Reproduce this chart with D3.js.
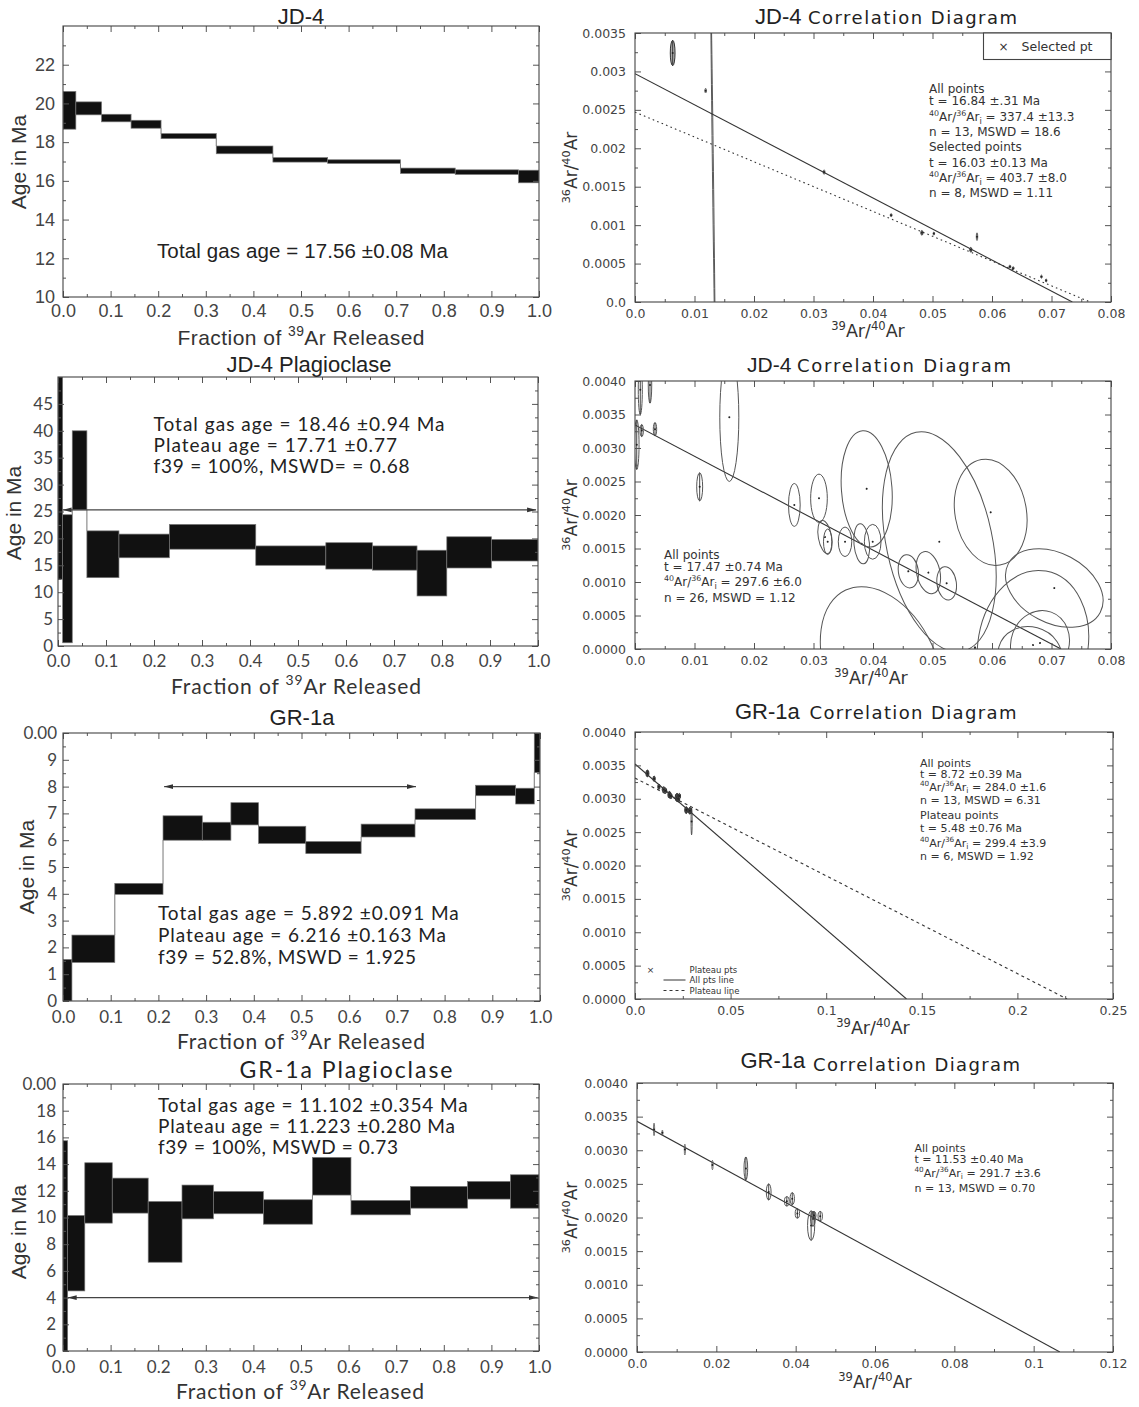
<!DOCTYPE html>
<html>
<head>
<meta charset="utf-8">
<script src="https://cdn.jsdelivr.net/npm/d3@7"></script>
<style>
  html, body { margin: 0; padding: 0; background: #fff; }
  svg { display: block; }
</style>
</head>
<body>
<svg id="fig" width="1139" height="1407"></svg>
<script>
// ---------------- Age spectra: [start fraction, end fraction, age low (Ma), age high (Ma)]
const jd4Steps = [
  [0.000, 0.027, 18.67, 20.62],
  [0.027, 0.081, 19.41, 20.08],
  [0.081, 0.143, 19.05, 19.44],
  [0.143, 0.206, 18.72, 19.13],
  [0.206, 0.322, 18.18, 18.44],
  [0.322, 0.441, 17.40, 17.80],
  [0.441, 0.556, 16.97, 17.20],
  [0.556, 0.709, 16.90, 17.09],
  [0.709, 0.824, 16.38, 16.66],
  [0.824, 0.957, 16.33, 16.57],
  [0.957, 1.000, 15.90, 16.55]
];
const jd4PlagSteps = [
  [0.000, 0.0097, 12.4, 50.0],
  [0.0097, 0.0297, 0.6, 24.4],
  [0.0297, 0.0602, 25.3, 40.0],
  [0.0602, 0.127, 12.7, 21.4],
  [0.127, 0.232, 16.4, 20.8],
  [0.232, 0.412, 18.0, 22.6],
  [0.412, 0.558, 15.0, 18.6],
  [0.558, 0.655, 14.3, 19.2],
  [0.655, 0.748, 14.1, 18.6],
  [0.748, 0.810, 9.3, 17.8],
  [0.810, 0.903, 14.5, 20.3],
  [0.903, 1.000, 15.8, 19.8]
];
const gr1aSteps = [
  [0.000, 0.0187, 0.00, 1.55],
  [0.0187, 0.1086, 1.44, 2.46],
  [0.1086, 0.2097, 3.98, 4.39],
  [0.2097, 0.292, 6.00, 6.91],
  [0.292, 0.352, 6.00, 6.67],
  [0.352, 0.410, 6.57, 7.40],
  [0.410, 0.509, 5.88, 6.52],
  [0.509, 0.625, 5.50, 5.95],
  [0.625, 0.738, 6.12, 6.60],
  [0.738, 0.865, 6.77, 7.17],
  [0.865, 0.949, 7.66, 8.05],
  [0.949, 0.988, 7.35, 7.94],
  [0.988, 1.000, 8.52, 10.0]
];
const gr1aPlagSteps = [
  [0.000, 0.0098, 0.00, 15.75],
  [0.0098, 0.0458, 4.50, 10.15],
  [0.0458, 0.1035, 9.58, 14.10],
  [0.1035, 0.179, 10.33, 12.95],
  [0.179, 0.250, 6.65, 11.20],
  [0.250, 0.316, 9.90, 12.43],
  [0.316, 0.421, 10.28, 11.95],
  [0.421, 0.524, 9.50, 11.33],
  [0.524, 0.605, 11.68, 14.50],
  [0.605, 0.730, 10.20, 11.28],
  [0.730, 0.850, 10.70, 12.33],
  [0.850, 0.940, 11.38, 12.70],
  [0.940, 1.000, 10.70, 13.20]
];

// Plateau arrows: [from fraction, to fraction, age level]
const jd4PlagPlateau = [0.0097, 0.996, 25.3];
const gr1aPlateau = [0.212, 0.740, 8.0];
const gr1aPlagPlateau = [0.0098, 0.997, 4.0];

// ---------------- Isochron points: [39Ar/40Ar, 36Ar/40Ar, half-width x, half-width y, tilt deg]
const jd4Iso = [
  [0.00633, 0.00324, 0.00040, 0.000165, 0],
  [0.01187, 0.00275, 0.00012, 0.00003, 0],
  [0.0131, 0.00170, 0.00003, 0.00240, -0.7],
  [0.03178, 0.00169, 0.00015, 0.00003, 0],
  [0.04305, 0.00113, 0.00015, 0.00002, 0],
  [0.04822, 0.00090, 0.00018, 0.00003, 0],
  [0.05023, 0.00089, 0.00012, 0.00002, 0],
  [0.05644, 0.00068, 0.00018, 0.00003, 0],
  [0.05748, 0.00085, 0.00012, 0.00005, 0],
  [0.06301, 0.00046, 0.00015, 0.00002, 0],
  [0.06356, 0.00044, 0.00015, 0.00002, 0],
  [0.06831, 0.00033, 0.00012, 0.00002, 0],
  [0.06910, 0.00028, 0.00012, 0.00002, 0]
];
const jd4PlagIso = [
  [0.00029, 0.00305, 0.00039, 0.00037, 0],
  [0.00089, 0.00387, 0.00034, 0.00037, 0],
  [0.00252, 0.00394, 0.00029, 0.00027, 0],
  [0.00113, 0.00326, 0.00028, 0.00009, 0],
  [0.00336, 0.00328, 0.00028, 0.00010, 0],
  [0.01087, 0.00242, 0.00050, 0.00021, 0],
  [0.01585, 0.00346, 0.00160, 0.00096, 0],
  [0.02678, 0.00215, 0.00098, 0.00032, 0],
  [0.03092, 0.00225, 0.00140, 0.00036, 0],
  [0.03193, 0.00167, 0.00112, 0.00025, -10],
  [0.03238, 0.00160, 0.00070, 0.00019, 0],
  [0.03530, 0.00160, 0.00113, 0.00022, 0],
  [0.03810, 0.00157, 0.00130, 0.00030, -5],
  [0.03995, 0.00160, 0.00140, 0.00026, 0],
  [0.03894, 0.00239, 0.00425, 0.00087, -4],
  [0.04594, 0.00116, 0.00168, 0.00025, -8],
  [0.04930, 0.00114, 0.00196, 0.00032, -12],
  [0.05238, 0.00098, 0.00163, 0.00025, -8],
  [0.05114, 0.00160, 0.00890, 0.00167, -12],
  [0.05978, 0.00204, 0.00600, 0.00080, -10],
  [0.07047, 0.00091, 0.00874, 0.00052, 28],
  [0.06689, 0.00006, 0.00924, 0.00112, 10],
  [0.06807, 0.00009, 0.00487, 0.00049, 20],
  [0.06639, -0.00009, 0.00540, 0.00042, 15],
  [0.04151, -0.00028, 0.00924, 0.00128, -25],
  [0.05714, 0.00002, 0.00010, 0.00002, 0]
];
const gr1aIso = [
  [0.0065, 0.00338, 0.0008, 0.00005, 0],
  [0.0100, 0.00330, 0.0006, 0.00004, 0],
  [0.0125, 0.00318, 0.0006, 0.00004, 0],
  [0.0150, 0.00314, 0.0008, 0.00004, 0],
  [0.0160, 0.00312, 0.0006, 0.00004, 0],
  [0.0180, 0.00306, 0.0008, 0.00005, 0],
  [0.0188, 0.00304, 0.0006, 0.00004, 0],
  [0.0220, 0.00302, 0.0010, 0.00006, 0],
  [0.0226, 0.00300, 0.0008, 0.00005, 0],
  [0.0232, 0.00304, 0.0006, 0.00004, 0],
  [0.0268, 0.00283, 0.0008, 0.00005, 0],
  [0.0287, 0.00282, 0.0008, 0.00005, 0],
  [0.0296, 0.00266, 0.0003, 0.00020, 0]
];
const gr1aPlagIso = [
  [0.0043, 0.00331, 0.00015, 0.000094, 0],
  [0.0064, 0.00326, 0.00012, 0.00004, 0],
  [0.01207, 0.00301, 0.00015, 0.00008, 0],
  [0.01902, 0.00278, 0.00015, 0.00007, 0],
  [0.02744, 0.00273, 0.00046, 0.00017, 0],
  [0.0332, 0.00238, 0.00060, 0.00012, 0],
  [0.03777, 0.00224, 0.00060, 0.00007, 0],
  [0.03914, 0.00228, 0.00055, 0.00009, 0],
  [0.04043, 0.00206, 0.00055, 0.00007, 0],
  [0.0439, 0.00188, 0.00090, 0.00022, 0],
  [0.04436, 0.00198, 0.00060, 0.00011, 0],
  [0.04463, 0.00203, 0.00050, 0.00006, 0],
  [0.04619, 0.00202, 0.00055, 0.00007, 0]
];

// Regression lines: [y-intercept, x-intercept]
const jd4IsoLines = [[0.00297, 0.0735], [0.00247, 0.0765]];
const jd4PlagIsoLines = [[0.003344, 0.0716]];
const gr1aIsoLines = [[0.00352, 0.142], [0.00331, 0.226]];
const gr1aPlagIsoLines = [[0.00343, 0.1066]];

// ---------------- Tick labels
const fracLabels = ["0.0","0.1","0.2","0.3","0.4","0.5","0.6","0.7","0.8","0.9","1.0"];
const jd4AgeLabels = ["10","12","14","16","18","20","22"];
const jd4PlagAgeLabels = ["0","5","10","15","20","25","30","35","40","45"];
const gr1aAgeLabels = ["0","1","2","3","4","5","6","7","8","9","0.00"];
const gr1aPlagAgeLabels = ["0","2","4","6","8","10","12","14","16","18","0.00"];
const jd4IsoXLabels = ["0.0","0.01","0.02","0.03","0.04","0.05","0.06","0.07","0.08"];
const jd4IsoYLabels = ["0.0","0.0005","0.001","0.0015","0.002","0.0025","0.003","0.0035"];
const ratioYLabels = ["0.0000","0.0005","0.0010","0.0015","0.0020","0.0025","0.0030","0.0035","0.0040"];
const gr1aIsoXLabels = ["0.0","0.05","0.1","0.15","0.2","0.25"];
const gr1aPlagIsoXLabels = ["0.0","0.02","0.04","0.06","0.08","0.1","0.12"];

// ---------------- Annotation text
const jd4Stats = ["Total gas age = 17.56 \u00b10.08 Ma"];
const jd4PlagStats = ["Total gas age = 18.46 \u00b10.94 Ma", "Plateau age = 17.71 \u00b10.77", "f39 = 100%, MSWD= = 0.68"];
const gr1aStats = ["Total gas age = 5.892 \u00b10.091 Ma", "Plateau age = 6.216 \u00b10.163 Ma", "f39 = 52.8%, MSWD = 1.925"];
const gr1aPlagStats = ["Total gas age = 11.102 \u00b10.354 Ma", "Plateau age = 11.223 \u00b10.280 Ma", "f39 = 100%, MSWD = 0.73"];
const jd4IsoStats = ["All points", "t = 16.84 \u00b1.31 Ma", "^40Ar/^36Ar_i = 337.4 \u00b113.3", "n = 13, MSWD = 18.6",
  "Selected points", "t = 16.03 \u00b10.13 Ma", "^40Ar/^36Ar_i = 403.7 \u00b18.0", "n = 8, MSWD = 1.11"];
const jd4PlagIsoStats = ["All points", "t = 17.47 \u00b10.74 Ma", "^40Ar/^36Ar_i = 297.6 \u00b16.0", "n = 26, MSWD = 1.12"];
const gr1aIsoStats = ["All points", "t = 8.72 \u00b10.39 Ma", "^40Ar/^36Ar_i = 284.0 \u00b11.6", "n = 13, MSWD = 6.31",
  "Plateau points", "t = 5.48 \u00b10.76 Ma", "^40Ar/^36Ar_i = 299.4 \u00b13.9", "n = 6, MSWD = 1.92"];
const gr1aPlagIsoStats = ["All points", "t = 11.53 \u00b10.40 Ma", "^40Ar/^36Ar_i = 291.7 \u00b13.6", "n = 13, MSWD = 0.70"];

// ---------------- Drawing
const SANS = "'Liberation Sans', Arial, Helvetica, sans-serif";
const HUM = "Lato, 'Open Sans', sans-serif";
const DJ = "'DejaVu Sans', Verdana, sans-serif";
const INK = "#222", GRAY = "#444";

const svg = d3.select("#fig");
svg.append("rect").attr("width", 1139).attr("height", 1407).attr("fill", "#fff");
const defs = svg.append("defs");
defs.append("marker").attr("id", "arrow")
  .attr("viewBox", "0 0 9 6").attr("refX", 9).attr("refY", 3)
  .attr("markerWidth", 9).attr("markerHeight", 6)
  .attr("markerUnits", "userSpaceOnUse").attr("orient", "auto-start-reverse")
  .append("path").attr("d", "M0,0.6L9,3L0,5.4Z").attr("fill", "#333");

let clipCount = 0;
function makePanel(box, xDomain, yDomain) {
  const x = d3.scaleLinear().domain(xDomain).range([box.left, box.right]);
  const y = d3.scaleLinear().domain(yDomain).range([box.bottom, box.top]);
  const id = "plotclip" + (clipCount++);
  defs.append("clipPath").attr("id", id).append("rect")
    .attr("x", box.left).attr("y", box.top)
    .attr("width", box.right - box.left).attr("height", box.bottom - box.top);
  const g = svg.append("g");
  const plot = g.append("g").attr("clip-path", `url(#${id})`);
  return { x, y, g, plot, box };
}

// Tick marks point inward on all four sides; only bottom and left carry labels.
function drawAxes(p, t) {
  const { x, y, g, box } = p;
  const xMaj = t.x.labels.map((_, i) => t.x.start + i * t.x.step);
  const yMaj = t.y.labels.map((_, i) => t.y.start + i * t.y.step);
  const xMin = d3.range(t.x.start + t.x.step / 2, x.domain()[1] - 1e-12, t.x.step);
  const yMin = d3.range(t.y.start + t.y.step / 2, y.domain()[1] - 1e-12, t.y.step);
  const sides = [
    [d3.axisBottom, x, `translate(0,${box.bottom})`, xMaj, xMin, t.x.labels, t.xPad],
    [d3.axisTop, x, `translate(0,${box.top})`, xMaj, xMin, null, 0],
    [d3.axisLeft, y, `translate(${box.left},0)`, yMaj, yMin, t.y.labels, t.yPad],
    [d3.axisRight, y, `translate(${box.right},0)`, yMaj, yMin, null, 0]
  ];
  sides.forEach(([axisFn, sc, tr, maj, min, labels, pad]) => {
    const major = axisFn(sc).tickValues(maj).tickSizeInner(-6).tickSizeOuter(0).tickPadding(pad)
      .tickFormat((d, i) => labels ? labels[i] : "");
    const minor = axisFn(sc).tickValues(min).tickSizeInner(-3).tickSizeOuter(0).tickFormat(() => "");
    [major, minor].forEach(a => {
      const s = g.append("g").attr("transform", tr).call(a);
      s.select(".domain").remove();
      s.selectAll(".tick line").attr("stroke", "#555").attr("stroke-width", 1);
      s.selectAll(".tick text").attr("font-family", t.font).attr("font-size", t.size).attr("fill", GRAY);
    });
  });
  g.append("rect").attr("x", box.left).attr("y", box.top)
    .attr("width", box.right - box.left).attr("height", box.bottom - box.top)
    .attr("fill", "none").attr("stroke", "#444").attr("stroke-width", 1.1);
}

// Text with ^sup and _sub markup.
function rich(sel, str, fs) {
  const re = /\^(\d+)|_(\w)|([^\^_]+)/g;
  let m, shift = 0;
  while ((m = re.exec(str))) {
    if (m[1]) {
      sel.append("tspan").attr("dy", -fs * 0.42 - shift).attr("font-size", fs * 0.66).text(m[1]);
      shift = -fs * 0.42;
    } else if (m[2]) {
      sel.append("tspan").attr("dy", fs * 0.22 - shift).attr("font-size", fs * 0.7).text(m[2]);
      shift = fs * 0.22;
    } else {
      sel.append("tspan").attr("dy", -shift).text(m[3]);
      shift = 0;
    }
  }
}

function label(g, o) {
  const t = g.append("text")
    .attr("font-family", o.font).attr("font-size", o.size).attr("fill", o.fill || INK)
    .attr("text-anchor", o.anchor || "start");
  if (o.rotate) t.attr("transform", `translate(${o.x},${o.y}) rotate(-90)`);
  else t.attr("x", o.x).attr("y", o.y);
  if (o.len) t.attr("textLength", o.len).attr("lengthAdjust", "spacing");
  rich(t, o.text, o.size);
  return t;
}

function drawSteps(p, steps, plateau) {
  const { x, y, plot } = p;
  // connectors across gaps between consecutive steps
  d3.pairs(steps).forEach(([a, b]) => {
    let seg = null;
    if (b[2] > a[3]) seg = [a[3], b[2]];
    else if (b[3] < a[2]) seg = [b[3], a[2]];
    if (seg) plot.append("line")
      .attr("x1", x(b[0])).attr("x2", x(b[0]))
      .attr("y1", y(seg[0])).attr("y2", y(seg[1]))
      .attr("stroke", "#777").attr("stroke-width", 1);
  });
  plot.selectAll("rect.step").data(steps).join("rect").attr("class", "step")
    .attr("x", d => x(d[0])).attr("width", d => x(d[1]) - x(d[0]))
    .attr("y", d => y(d[3])).attr("height", d => y(d[2]) - y(d[3]))
    .attr("fill", "#111").attr("stroke", "#777").attr("stroke-width", 0.7);
  if (plateau) {
    p.g.append("line")
      .attr("x1", x(plateau[0])).attr("x2", x(plateau[1]))
      .attr("y1", y(plateau[2])).attr("y2", y(plateau[2]))
      .attr("stroke", "#444").attr("stroke-width", 1.1)
      .attr("marker-start", "url(#arrow)").attr("marker-end", "url(#arrow)");
  }
}

function spectrumPanel(box, c) {
  const p = makePanel(box, [0, 1], c.yDomain);
  drawSteps(p, c.steps, c.plateau);
  drawAxes(p, {
    x: { start: 0, step: 0.1, labels: fracLabels },
    y: c.yTicks, font: c.tickFont, size: c.tickSize, xPad: c.xPad, yPad: c.yPad
  });
  label(p.g, Object.assign({ font: SANS, size: 22, anchor: "middle" }, c.title));
  label(p.g, { text: "Age in Ma", x: c.yTitle[0], y: c.yTitle[1], rotate: true, anchor: "middle", font: SANS, size: 21, fill: "#333" });
  label(p.g, { text: "Fraction of ^39Ar Released", x: c.xTitle[0] - c.xTitle[3] / 2, y: c.xTitle[1],
    font: c.xTitle[2], size: 21, len: c.xTitle[3], fill: "#333" });
  c.stats.forEach((s, i) => label(p.g, { text: s, x: c.statX, y: c.statY[i], font: c.statFont,
    size: c.statSize, len: c.statLen[i], fill: INK }));
}

function isoPanel(box, c) {
  const p = makePanel(box, c.xDomain, c.yDomain);
  const { x, y, plot } = p;
  c.lines.forEach((ln, k) => plot.append("line")
    .attr("x1", x(0)).attr("y1", y(ln[0])).attr("x2", x(ln[1])).attr("y2", y(0))
    .attr("stroke", "#333").attr("stroke-width", 1.1)
    .attr("stroke-dasharray", c.dash[k] || null));
  c.points.forEach(d => {
    const cx = x(d[0]), cy = y(d[1]);
    const rx = Math.max(0.5, x(d[0] + d[2]) - cx), ry = Math.max(0.6, cy - y(d[1] + d[3]));
    const e = plot.append("g").attr("transform", `translate(${cx},${cy}) rotate(${d[4]})`);
    e.append("ellipse").attr("rx", rx).attr("ry", ry)
      .attr("fill", rx < 1 ? "none" : c.pointFill).attr("stroke", c.pointStroke)
      .attr("stroke-width", rx < 1 ? 0.8 : 1);
    if (rx >= 1.2 && rx < 4 && ry > 3) e.append("line").attr("y1", -ry).attr("y2", ry)
      .attr("stroke", "#333").attr("stroke-width", 0.9);
    if (ry < 150) e.append("circle").attr("r", 1).attr("fill", "#222");
  });
  drawAxes(p, {
    x: c.xTicks, y: c.yTicks, font: DJ, size: 12.5, xPad: 7, yPad: 9
  });
  label(p.g, { text: c.title[0], x: c.title[1], y: c.title[3], font: SANS, size: c.title[6] || 22 });
  label(p.g, { text: "Correlation Diagram", x: c.title[2], y: c.title[4], font: DJ, size: 18, len: c.title[5] });
  label(p.g, { text: "^36Ar/^40Ar", x: 577, y: (box.top + box.bottom) / 2, rotate: true, anchor: "middle", font: DJ, size: 17, fill: "#333" });
  label(p.g, { text: "^39Ar/^40Ar", x: c.xTitle[0], y: c.xTitle[1], anchor: "middle", font: DJ, size: 17.5, fill: "#333" });
  c.stats.forEach((s, i) => label(p.g, { text: s, x: c.statX, y: c.statY[i], font: DJ, size: c.statSize, fill: "#333" }));
  return p;
}

// ---------------- Layout
const boxes = {
  jd4:        { left: 63,  right: 539,  top: 26,   bottom: 297 },
  jd4Plag:    { left: 58,  right: 538,  top: 377,  bottom: 646 },
  gr1a:       { left: 63,  right: 540,  top: 733,  bottom: 1001 },
  gr1aPlag:   { left: 63,  right: 539,  top: 1084, bottom: 1351 },
  jd4Iso:     { left: 635, right: 1111, top: 33,   bottom: 302 },
  jd4PlagIso: { left: 635, right: 1111, top: 381,  bottom: 649 },
  gr1aIso:    { left: 635, right: 1113, top: 732,  bottom: 999 },
  gr1aPlagIso:{ left: 637, right: 1113, top: 1083, bottom: 1352 }
};

spectrumPanel(boxes.jd4, {
  steps: jd4Steps, yDomain: [10, 24], yTicks: { start: 10, step: 2, labels: jd4AgeLabels },
  tickFont: SANS, tickSize: 18, xPad: 7, yPad: 8,
  title: { text: "JD-4", x: 301, y: 24 },
  yTitle: [26, 162], xTitle: [301, 345, SANS, 247],
  stats: jd4Stats, statX: 157, statY: [258], statFont: SANS, statSize: 20.5, statLen: [291]
});

spectrumPanel(boxes.jd4Plag, {
  steps: jd4PlagSteps, plateau: jd4PlagPlateau, yDomain: [0, 50],
  yTicks: { start: 0, step: 5, labels: jd4PlagAgeLabels },
  tickFont: HUM, tickSize: 17, xPad: 9, yPad: 5,
  title: { text: "JD-4 Plagioclase", x: 309, y: 371.5 },
  yTitle: [21, 513], xTitle: [296, 694, HUM, 250],
  stats: jd4PlagStats, statX: 153.5, statY: [431, 452, 473], statFont: HUM, statSize: 19,
  statLen: [291, 243.6, 256]
});

spectrumPanel(boxes.gr1a, {
  steps: gr1aSteps, plateau: gr1aPlateau, yDomain: [0, 10],
  yTicks: { start: 0, step: 1, labels: gr1aAgeLabels },
  tickFont: HUM, tickSize: 17, xPad: 10, yPad: 6,
  title: { text: "GR-1a", x: 302, y: 725 },
  yTitle: [34, 867], xTitle: [301, 1049, HUM, 248],
  stats: gr1aStats, statX: 158, statY: [920, 942, 964], statFont: HUM, statSize: 19,
  statLen: [300.7, 288, 258]
});

spectrumPanel(boxes.gr1aPlag, {
  steps: gr1aPlagSteps, plateau: gr1aPlagPlateau, yDomain: [0, 20],
  yTicks: { start: 0, step: 2, labels: gr1aPlagAgeLabels },
  tickFont: HUM, tickSize: 17, xPad: 10, yPad: 7,
  title: { text: "GR-1a Plagioclase", x: 239.5, y: 1077.5, font: HUM, size: 23, anchor: "start", len: 213 },
  yTitle: [26, 1232], xTitle: [300, 1399, HUM, 248],
  stats: gr1aPlagStats, statX: 158, statY: [1111.5, 1132.5, 1153.5], statFont: HUM, statSize: 19,
  statLen: [309.6, 297, 240]
});

const jd4IsoPanel = isoPanel(boxes.jd4Iso, {
  xDomain: [0, 0.08], yDomain: [0, 0.0035],
  xTicks: { start: 0, step: 0.01, labels: jd4IsoXLabels },
  yTicks: { start: 0, step: 0.0005, labels: jd4IsoYLabels },
  lines: jd4IsoLines, dash: [null, "1.6,3.2"], points: jd4Iso, pointFill: "#aaa", pointStroke: "#333",
  title: ["JD-4", 755, 808, 24, 24, 209], xTitle: [868, 337],
  stats: jd4IsoStats, statX: 929, statY: [93, 105, 121, 136, 151, 167, 182, 197], statSize: 12
});
// selection legend
jd4IsoPanel.g.append("rect").attr("x", 983.5).attr("y", 33).attr("width", 127.5).attr("height", 26.5)
  .attr("fill", "#fff").attr("stroke", "#444").attr("stroke-width", 1.1);
label(jd4IsoPanel.g, { text: "\u00d7", x: 1003.5, y: 50.5, font: DJ, size: 12, anchor: "middle", fill: "#333" });
label(jd4IsoPanel.g, { text: "Selected pt", x: 1021.5, y: 50.5, font: DJ, size: 12.5, fill: "#333" });

isoPanel(boxes.jd4PlagIso, {
  xDomain: [0, 0.08], yDomain: [0, 0.004],
  xTicks: { start: 0, step: 0.01, labels: jd4IsoXLabels },
  yTicks: { start: 0, step: 0.0005, labels: ratioYLabels },
  lines: jd4PlagIsoLines, dash: [null], points: jd4PlagIso, pointFill: "none", pointStroke: "#555",
  title: ["JD-4", 747, 797, 371.5, 371.5, 214, 21], xTitle: [871, 684],
  stats: jd4PlagIsoStats, statX: 664, statY: [559, 571, 586, 602], statSize: 12
});

const gr1aIsoPanel = isoPanel(boxes.gr1aIso, {
  xDomain: [0, 0.25], yDomain: [0, 0.004],
  xTicks: { start: 0, step: 0.05, labels: gr1aIsoXLabels },
  yTicks: { start: 0, step: 0.0005, labels: ratioYLabels },
  lines: gr1aIsoLines, dash: [null, "3,3.2"], points: gr1aIso, pointFill: "#555", pointStroke: "#333",
  title: ["GR-1a", 735, 809.5, 718.5, 718.5, 207], xTitle: [873, 1034],
  stats: gr1aIsoStats, statX: 920, statY: [766.5, 777.5, 791, 804, 819, 832, 847, 860], statSize: 11
});
// line key
{
  const g = gr1aIsoPanel.g;
  label(g, { text: "\u00d7", x: 650.5, y: 973, font: DJ, size: 9, anchor: "middle", fill: "#333" });
  label(g, { text: "Plateau pts", x: 689.5, y: 973, font: DJ, size: 8.5, fill: "#333" });
  g.append("line").attr("x1", 663.5).attr("x2", 685.5).attr("y1", 980).attr("y2", 980).attr("stroke", "#333");
  label(g, { text: "All pts line", x: 689.5, y: 983, font: DJ, size: 8.5, fill: "#333" });
  g.append("line").attr("x1", 663.5).attr("x2", 685.5).attr("y1", 990.5).attr("y2", 990.5)
    .attr("stroke", "#333").attr("stroke-dasharray", "3,3");
  label(g, { text: "Plateau line", x: 689.5, y: 993.5, font: DJ, size: 8.5, fill: "#333" });
}

isoPanel(boxes.gr1aPlagIso, {
  xDomain: [0, 0.12], yDomain: [0, 0.004],
  xTicks: { start: 0, step: 0.02, labels: gr1aPlagIsoXLabels },
  yTicks: { start: 0, step: 0.0005, labels: ratioYLabels },
  lines: gr1aPlagIsoLines, dash: [null], points: gr1aPlagIso, pointFill: "none", pointStroke: "#555",
  title: ["GR-1a", 740.5, 813, 1068, 1070.5, 207], xTitle: [875, 1388],
  stats: gr1aPlagIsoStats, statX: 914.5, statY: [1152, 1162.5, 1177, 1192], statSize: 11
});
</script>
</body>
</html>
